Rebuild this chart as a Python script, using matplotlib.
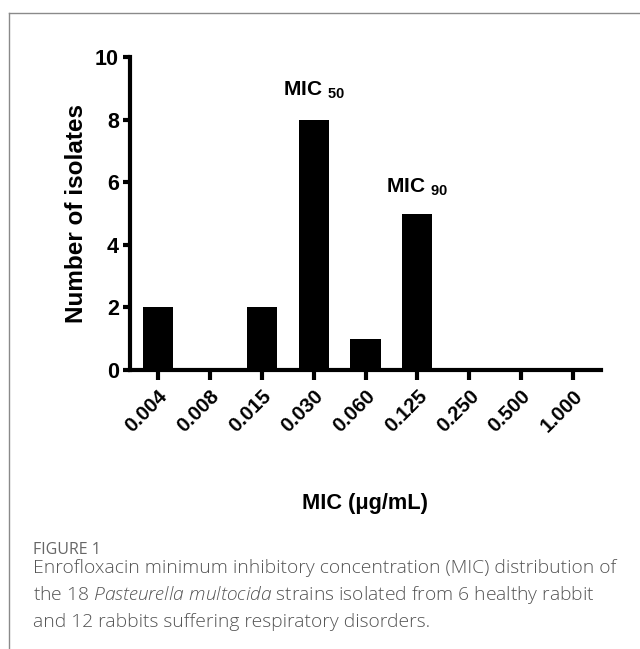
import matplotlib
matplotlib.use("Agg")
import matplotlib.pyplot as plt
from matplotlib.lines import Line2D

# data
mic_labels = ["0.004", "0.008", "0.015", "0.030", "0.060", "0.125", "0.250", "0.500", "1.000"]
n_isolates = [2, 0, 2, 8, 1, 5, 0, 0, 0]
y_ticks = [0, 2, 4, 6, 8, 10]
caption_title = "FIGURE 1"

plt.rcParams['font.family'] = ['Liberation Sans', 'DejaVu Sans']
plt.rcParams['mathtext.fontset'] = 'custom'
plt.rcParams['mathtext.rm'] = 'Open Sans:light'
plt.rcParams['mathtext.it'] = 'Open Sans:italic:light'
plt.rcParams['mathtext.bf'] = 'Liberation Sans:bold'

W, H = 640, 649
fig = plt.figure(figsize=(W / 100, H / 100), dpi=100)

# axes placed in pixel terms
left, right, top, bottom = 130, 601, 57, 370
ax = fig.add_axes([left / W, 1 - bottom / H, (right - left) / W, (bottom - top) / H])

x = list(range(len(mic_labels)))
ax.bar(x, n_isolates, width=0.58, color='black')

ax.set_xlim(-0.54, len(mic_labels) - 1 + 0.54)
ax.set_ylim(0, 10)
ax.set_yticks(y_ticks)
ax.set_xticks(x)
ax.set_xticklabels(mic_labels, rotation=45, ha='right', rotation_mode='anchor',
                   fontsize=14.7, fontweight='bold')
ax.set_yticklabels([str(v) for v in y_ticks], fontsize=15.5, fontweight='bold')

for s in ['top', 'right']:
    ax.spines[s].set_visible(False)
for s in ['left', 'bottom']:
    ax.spines[s].set_linewidth(3)
    ax.spines[s].set_capstyle('projecting')

ax.tick_params(axis='y', width=3, length=5, pad=3)
ax.tick_params(axis='x', width=3, length=7, pad=5)

ax.set_ylabel("Number of isolates", fontsize=17.5, fontweight='bold', labelpad=5)
ax.set_xlabel("MIC (\u03bcg/mL)", fontsize=15.7, fontweight='bold', labelpad=41)

ax.text(3, 8.6, r"MIC $\mathbf{_{50}}$", ha='center', va='bottom', fontsize=15, fontweight='bold')
ax.text(5, 5.5, r"MIC $\mathbf{_{90}}$", ha='center', va='bottom', fontsize=15, fontweight='bold')

# frame lines of the figure panel
fig.add_artist(Line2D([9 / W, 1], [1 - 13 / H, 1 - 13 / H], color='#8a8a8a', lw=1))
fig.add_artist(Line2D([9 / W, 9 / W], [0, 1 - 13 / H], color='#8a8a8a', lw=1))

# caption
cap_color = '#555555'
fig.text(33 / W, 1 - 550 / H, caption_title, fontsize=11.5, color='#666666',
         family='Open Sans', va='center')
cap_lines = [
    "Enrofloxacin minimum inhibitory concentration (MIC) distribution of",
    r"the 18 $\mathit{Pasteurella\ multocida}$ strains isolated from 6 healthy rabbit",
    "and 12 rabbits suffering respiratory disorders.",
]
for i, line in enumerate(cap_lines):
    fig.text(33 / W, 1 - (568 + 27 * i) / H, line, fontsize=13.9, color=cap_color,
             family='Open Sans', weight='light', va='center')

fig.savefig("out.png", dpi=100)
